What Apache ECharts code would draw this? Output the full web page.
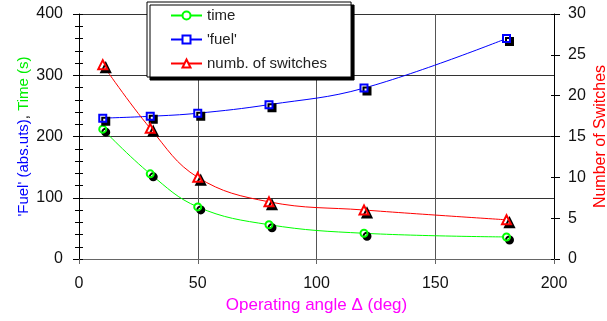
<!DOCTYPE html>
<html>
<head>
<meta charset="utf-8">
<script src="https://cdn.jsdelivr.net/npm/echarts@6/dist/echarts.min.js"></script>
<style>
  html, body { margin: 0; padding: 0; background: #fff; }
  #chart { width: 607px; height: 321px; }
</style>
</head>
<body>
<div id="chart"></div>
<script>
// operating angle (deg)
var angles = [10, 30, 50, 80, 120, 180];
var timeVals = [212, 139, 85, 56, 42, 36];
var fuelVals = [230, 233, 238, 252, 279, 360];
var switchVals = [23.8, 16.0, 10.0, 7.0, 6.0, 4.8];

function pairs(xs, ys) {
    return xs.map(function (x, i) { return [x, ys[i]]; });
}

var font = 'Liberation Sans, Arial, sans-serif';
var markShadow = { shadowColor: '#000', shadowBlur: 0, shadowOffsetX: 3, shadowOffsetY: 3 };

// bare axis used only to draw extra tick marks
function tickAxis(pos, max, step, inside, len) {
    return {
        type: 'value',
        position: pos,
        min: 0, max: max, interval: step,
        axisLine: { show: false },
        axisTick: { show: true, inside: inside, length: len, lineStyle: { color: '#000' } },
        axisLabel: { show: false },
        splitLine: { show: false }
    };
}

option = {
    animation: false,
    backgroundColor: '#fff',
    textStyle: { fontFamily: font },
    grid: { left: 79, right: 53, top: 14, bottom: 62, outerBoundsMode: 'none' },
    legend: {
        orient: 'vertical',
        left: 147,
        top: 2,
        padding: [6, 24, 6, 23],
        itemGap: 9,
        itemWidth: 31,
        itemHeight: 10,
        backgroundColor: '#fff',
        borderColor: '#000',
        borderWidth: 1,
        shadowColor: '#000',
        shadowBlur: 0,
        shadowOffsetX: 3,
        shadowOffsetY: 3,
        itemStyle: { borderWidth: 1, shadowColor: 'transparent' },
        textStyle: { fontSize: 15, color: '#222', fontFamily: font },
        data: ['time', "'fuel'", 'numb. of switches']
    },
    xAxis: {
        type: 'value',
        min: 0, max: 200, interval: 50,
        name: 'Operating angle \u0394 (deg)',
        nameLocation: 'middle',
        nameGap: 36,
        nameTextStyle: { color: '#ff00ff', fontSize: 17, fontFamily: font },
        axisLine: { lineStyle: { color: '#666', width: 1 } },
        axisTick: { show: true, length: 5, lineStyle: { color: '#666' } },
        axisLabel: { color: '#111', fontSize: 16, margin: 17, fontFamily: font },
        splitLine: { show: true, lineStyle: { color: '#555', width: 1 } }
    },
    yAxis: [
        {
            type: 'value',
            position: 'left',
            min: 0, max: 400, interval: 100,
            name: "{b|'Fuel' (abs.uts)}{k|,} {g|Time (s)}",
            nameLocation: 'middle',
            nameGap: 48,
            nameMoveOverlap: false,
            nameTextStyle: {
                fontSize: 15, fontFamily: font,
                rich: {
                    b: { color: '#0000ff', fontSize: 15, fontFamily: font },
                    k: { color: '#000', fontSize: 15, fontFamily: font },
                    g: { color: '#00ee00', fontSize: 15, fontFamily: font }
                }
            },
            axisLine: { show: true, lineStyle: { color: '#000', width: 1 } },
            axisTick: { show: true, length: 6, lineStyle: { color: '#000' } },
            axisLabel: { color: '#111', fontSize: 16, margin: 16, fontFamily: font },
            splitLine: { show: true, lineStyle: { color: '#333', width: 1 } }
        },
        {
            type: 'value',
            position: 'right',
            min: 0, max: 30, interval: 5,
            name: 'Number of Switches',
            nameLocation: 'middle',
            nameGap: 39,
            nameMoveOverlap: false,
            nameTextStyle: { color: '#ff0000', fontSize: 16, fontFamily: font },
            axisLine: { show: true, lineStyle: { color: '#000', width: 1 } },
            axisTick: { show: true, length: 6, lineStyle: { color: '#000' } },
            axisLabel: { color: '#111', fontSize: 16, margin: 14, fontFamily: font },
            splitLine: { show: false }
        },
        tickAxis('left', 400, 20, false, 4),
        tickAxis('left', 400, 20, true, 4),
        tickAxis('right', 30, 5, true, 3)
    ],
    series: [
        {
            name: 'time',
            type: 'line',
            smooth: 0.4,
            symbol: 'emptyCircle',
            symbolSize: 7,
            lineStyle: { color: '#00ff00', width: 1 },
            itemStyle: Object.assign({ color: '#00ff00', borderColor: '#00ff00', borderWidth: 1 }, markShadow),
            data: pairs(angles, timeVals),
            z: 3
        },
        {
            name: "'fuel'",
            type: 'line',
            smooth: 0.4,
            symbol: 'emptyRect',
            symbolSize: 7,
            lineStyle: { color: '#0000ff', width: 1 },
            itemStyle: Object.assign({ color: '#0000ff', borderColor: '#0000ff', borderWidth: 1 }, markShadow),
            data: pairs(angles, fuelVals),
            z: 3
        },
        {
            name: 'numb. of switches',
            type: 'line',
            yAxisIndex: 1,
            smooth: 0.4,
            symbol: 'emptyTriangle',
            symbolSize: 9,
            lineStyle: { color: '#ff0000', width: 1 },
            itemStyle: Object.assign({ color: '#ff0000', borderColor: '#ff0000', borderWidth: 1 }, markShadow),
            data: pairs(angles, switchVals),
            z: 3
        }
    ]
};

var myChart = echarts.init(document.getElementById('chart'));
myChart.setOption(option);
</script>
</body>
</html>
